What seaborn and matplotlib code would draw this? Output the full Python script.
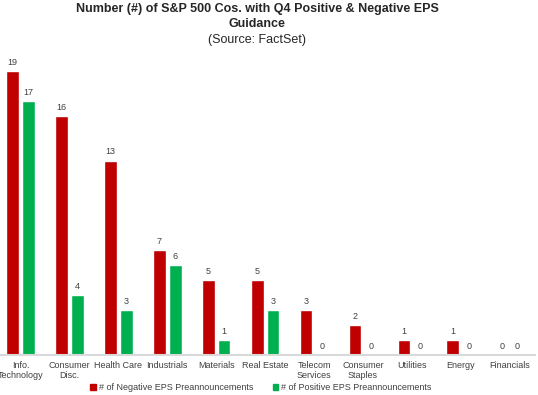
import matplotlib
matplotlib.use("Agg")
import matplotlib.pyplot as plt
import seaborn as sns
import pandas as pd
from matplotlib.patches import Patch

sectors = ["Info.\nTechnology", "Consumer\nDisc.", "Health Care", "Industrials", "Materials",
           "Real Estate", "Telecom\nServices", "Consumer\nStaples", "Utilities", "Energy", "Financials"]
negative = [19, 16, 13, 7, 5, 5, 3, 2, 1, 1, 0]
positive = [17, 4, 3, 6, 1, 3, 0, 0, 0, 0, 0]
neg_label = "# of Negative EPS Preannouncements"
pos_label = "# of Positive EPS Preannouncements"

df = pd.DataFrame({"sector": sectors, neg_label: negative, pos_label: positive})
df = df.melt(id_vars="sector", var_name="series", value_name="count")

sns.set_style("white")
plt.rcParams["font.family"] = ["Liberation Sans", "DejaVu Sans"]

fig = plt.figure(figsize=(5.38, 3.95), dpi=100)
ax = fig.add_axes([0.002, 1 - 355 / 395, 534 / 538, (355 - 60) / 395])

sns.barplot(data=df, x="sector", y="count", hue="series", order=sectors,
            hue_order=[neg_label, pos_label], palette=["#C00000", "#00B050"],
            saturation=1, width=0.65, gap=0.2, ax=ax, legend=False)

for c in ax.containers:
    ax.bar_label(c, padding=3, fontsize=6.5, color="#404040")

ax.set_xlim(-0.398, 10.52)
ax.set_ylim(0, (355 - 60) / 14.95)
ax.set_xlabel("")
ax.set_ylabel("")
ax.set_yticks([])
for s in ["top", "left", "right"]:
    ax.spines[s].set_visible(False)
ax.spines["bottom"].set_color("#D9D9D9")
ax.spines["bottom"].set_linewidth(1.5)
ax.tick_params(axis="x", length=0, pad=4, labelsize=6.5, labelcolor="#404040")

fig.text(0.478, 1 - 16.5 / 395, "Number (#) of S&P 500 Cos. with Q4 Positive & Negative EPS\nGuidance",
         ha="center", va="center", fontsize=9, fontweight="bold", linespacing=1.4)
fig.text(0.478, 1 - 39.5 / 395, "(Source: FactSet)", ha="center", va="center", fontsize=9)

handles = [Patch(color="#C00000", label=neg_label), Patch(color="#00B050", label=pos_label)]
fig.legend(handles=handles, loc="center", bbox_to_anchor=(0.485, 1 - 388 / 395), ncol=2,
           frameon=False, fontsize=6.5, handlelength=0.6, handleheight=0.6, handletextpad=0.3,
           columnspacing=2.2, labelcolor="#404040")

fig.savefig("out.png", dpi=100)
